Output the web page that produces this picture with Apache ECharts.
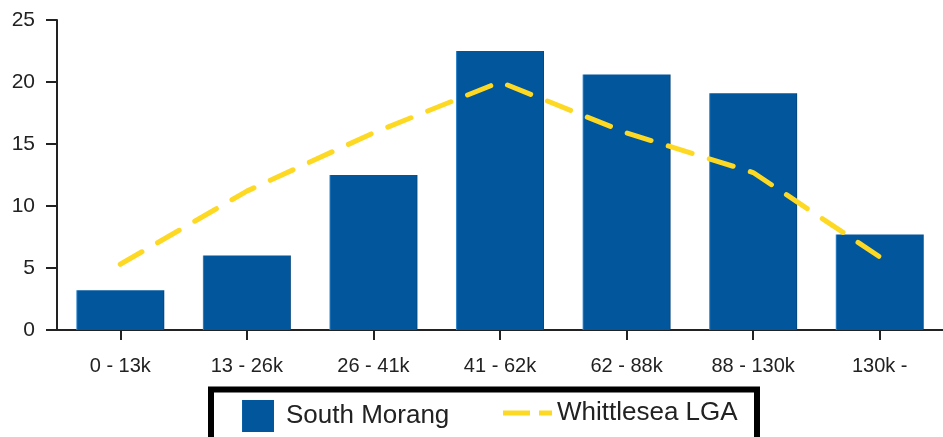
<!DOCTYPE html>
<html>
<head>
<meta charset="utf-8">
<script src="https://cdn.jsdelivr.net/npm/echarts@6/dist/echarts.min.js"></script>
<style>
  html, body { margin: 0; padding: 0; background: #fff; }
  #chart { width: 943px; height: 437px; }
</style>
</head>
<body>
<div id="chart"></div>
<script>
// income bands (weekly household income)
const categories = ["0 - 13k", "13 - 26k", "26 - 41k", "41 - 62k", "62 - 88k", "88 - 130k", "130k -"];
const southMorang = [3.2, 6.0, 12.5, 22.5, 20.6, 19.1, 7.7];
const whittlesea = [5.3, 11.2, 15.9, 20.0, 15.9, 12.7, 5.9];

const blue = "#02569b";
const yellow = "#fdd924";
const axisColor = "#222";
const labelFont = "Liberation Sans";

let myChart = echarts.init(document.getElementById("chart"));

myChart.setOption({
  animation: false,
  textStyle: { fontFamily: labelFont },
  grid: {
    left: 57,
    right: -10,
    top: 20,
    bottom: 107,
    containLabel: false,
  },
  legend: [
    {
      left: 242,
      top: 400,
      padding: 0,
      itemWidth: 32,
      itemHeight: 32,
      data: [{ name: "South Morang", icon: "rect" }],
      textStyle: { fontSize: 26, color: "#222", fontFamily: labelFont, padding: [0, 0, 0, 7] },
    },
    {
      left: 503,
      top: 400,
      padding: 0,
      itemWidth: 49,
      itemHeight: 32,
      // dashed line swatch: long dash + short dash
      data: [{ name: "Whittlesea LGA", icon: "path://M0,0H27V5H0Z M36,0H49V5H36Z" }],
      itemStyle: { color: yellow },
      textStyle: { fontSize: 26, color: "#222", fontFamily: labelFont },
    },
  ],
  graphic: [
    {
      // legend frame, bottom edge runs off the canvas
      type: "rect",
      shape: { x: 211, y: 389.5, width: 546, height: 70 },
      style: { fill: "none", stroke: "#000", lineWidth: 6 },
      silent: true,
    },
  ],
  xAxis: {
    type: "category",
    data: categories,
    boundaryGap: true,
    axisLine: { lineStyle: { color: axisColor, width: 2 } },
    axisTick: { show: true, alignWithLabel: true, length: 10, lineStyle: { color: axisColor, width: 2 } },
    axisLabel: { fontSize: 20, color: "#222", margin: 26, interval: 0 },
    splitLine: { show: false },
  },
  yAxis: {
    type: "value",
    min: 0,
    max: 25,
    interval: 5,
    axisLine: { show: true, lineStyle: { color: axisColor, width: 2 } },
    axisTick: { show: true, length: 11, lineStyle: { color: axisColor, width: 2 } },
    axisLabel: { fontSize: 21, color: "#222", margin: 22 },
    splitLine: { show: false },
  },
  series: [
    {
      name: "South Morang",
      type: "bar",
      data: southMorang,
      barWidth: "69.5%",
      itemStyle: {
        color: new echarts.graphic.LinearGradient(0, 0, 1, 0, [
          { offset: 0, color: "#3f95dc" },
          { offset: 0.018, color: blue },
          { offset: 0.985, color: blue },
          { offset: 1, color: "#003c70" },
        ]),
      },
    },
    {
      name: "Whittlesea LGA",
      type: "line",
      data: whittlesea,
      symbol: "none",
      showSymbol: false,
      itemStyle: { color: yellow },
      lineStyle: { color: yellow, width: 5, type: [25, 18], cap: "round", join: "round" },
      z: 5,
    },
  ],
});
</script>
</body>
</html>
